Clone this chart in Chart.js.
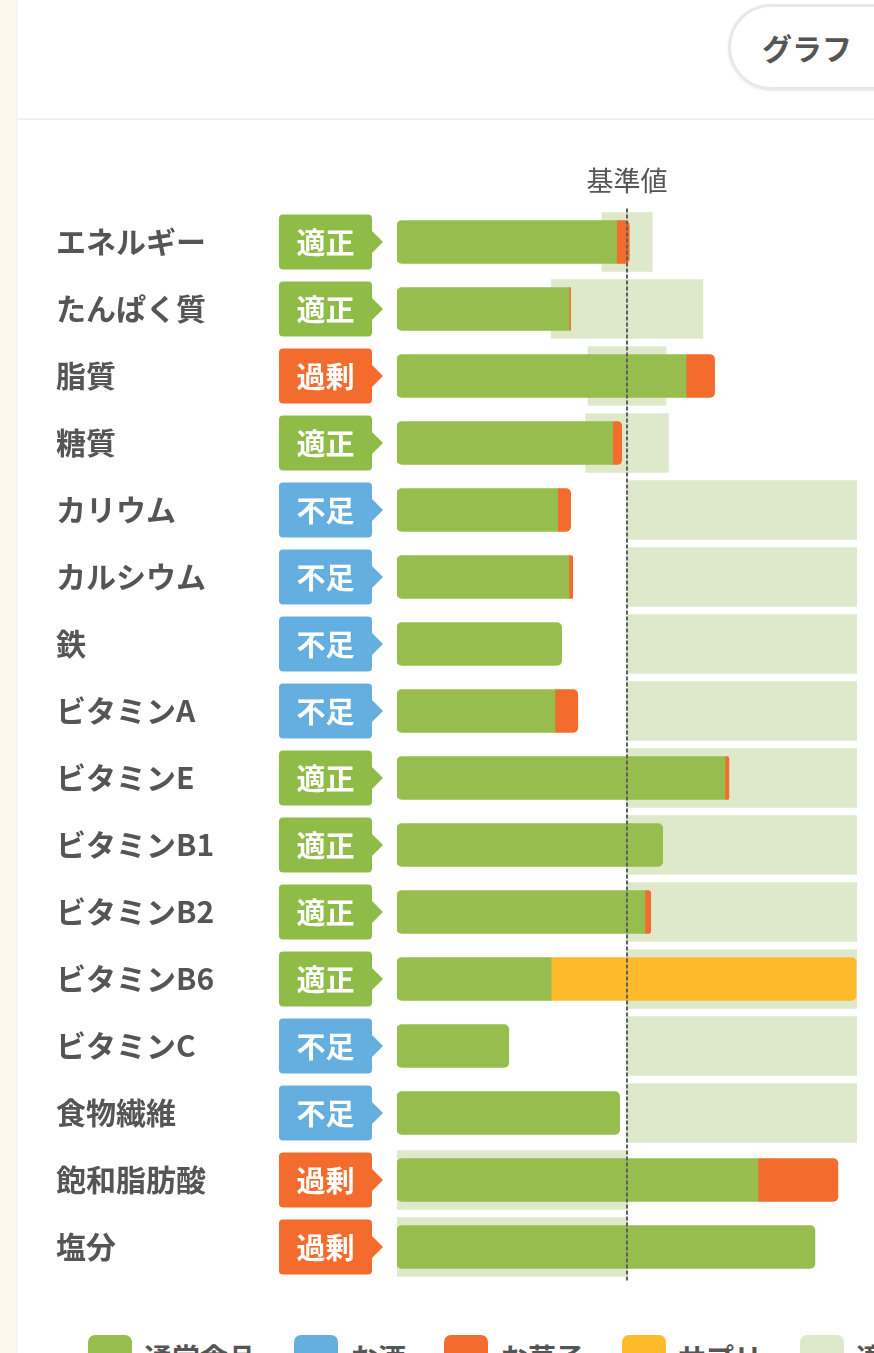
<!DOCTYPE html>
<html lang="ja">
<head>
<meta charset="utf-8">
<title>栄養バランス グラフ</title>
<script src="https://cdn.jsdelivr.net/npm/chart.js@4.4.1/dist/chart.umd.min.js"></script>
<style>
  html, body { margin: 0; padding: 0; background: #fff; }
  body {
    width: 874px; height: 1353px; overflow: hidden; position: relative;
    font-family: 'Noto Sans CJK JP', sans-serif; color: #555;
  }
  .side {
    position: absolute; left: 0; top: 0; width: 16px; height: 100%;
    background: #fcf8ee; box-shadow: 1px 0 2px rgba(0, 0, 0, 0.08);
  }
  .header-line {
    position: absolute; left: 17px; right: 0; top: 118px; height: 2px; background: #efefef;
  }
  .graph-btn {
    position: absolute; left: 728px; top: 4px; width: 200px; height: 86px;
    box-sizing: border-box; border: 3px solid #e8e8e8; border-radius: 43px;
    box-shadow: 0 1px 3px rgba(0, 0, 0, 0.08);
    font-weight: bold; font-size: 30px; line-height: 80px; padding-left: 31px;
  }
  #chart-box { position: absolute; left: 17px; top: 130px; width: 857px; height: 1190px; }
  #legend {
    position: absolute; left: 88px; top: 1335px; display: flex; white-space: nowrap;
    font-weight: bold; font-size: 28px;
  }
  #legend .item { display: flex; align-items: center; margin-right: 38px; }
  #legend .box { width: 44px; height: 44px; border-radius: 7px; margin-right: 12px; flex: none; }
</style>
</head>
<body>
<div class="side"></div>
<div class="graph-btn">グラフ</div>
<div class="header-line"></div>
<div id="chart-box"><canvas id="chart"></canvas></div>
<div id="legend"></div>

<script>
// Nutrients, top to bottom
const nutrients = [
  'エネルギー', 'たんぱく質', '脂質', '糖質', 'カリウム', 'カルシウム', '鉄', 'ビタミンA',
  'ビタミンE', 'ビタミンB1', 'ビタミンB2', 'ビタミンB6', 'ビタミンC', '食物繊維', '飽和脂肪酸', '塩分'
];
const statuses = [
  '適正', '適正', '過剰', '適正', '不足', '不足', '不足', '不足',
  '適正', '適正', '適正', '適正', '不足', '不足', '過剰', '過剰'
];

// Intake as % of the reference value (基準値 = 100)
const regularFood = [95.5, 74.9, 125.7, 93.8, 69.9, 74.8, 71.6, 68.7, 142.6, 115.5, 107.8, 67.0, 48.6, 96.8, 157.0, 181.7];
const alcohol = [0, 0, 0, 0, 0, 0, 0, 0, 0, 0, 0, 0, 0, 0, 0, 0];
const sweets = [5.5, 0.6, 12.4, 3.9, 5.6, 1.6, 0, 9.9, 1.7, 0, 2.5, 0, 0, 0, 34.7, 0];
const supplements = [0, 0, 0, 0, 0, 0, 0, 0, 0, 0, 0, 132.6, 0, 0, 0, 0];

// Appropriate range (適正範囲), same units
const rangeLow = [89, 67, 83, 82, 100, 100, 100, 100, 100, 100, 100, 100, 100, 100, 0, 0];
const rangeHigh = [111, 133, 117, 118, 200, 200, 200, 200, 200, 200, 200, 200, 200, 200, 100, 100];

const referenceValue = 100;
const seriesLabels = ['通常食品', 'お酒', 'お菓子', 'サプリ', '適正範囲'];

const FONT = "'Noto Sans CJK JP', 'Noto Sans', sans-serif";
const COLORS = ['#96bd4d', '#65aee0', '#f36b2d', '#fdbb2b', '#dee8ca'];
const STATUS_COLORS = { '適正': '#8fbb47', '過剰': '#f36b2d', '不足': '#65aee0' };

const intakeSeries = [regularFood, alcohol, sweets, supplements];

// Round only the outer ends of each stacked intake bar
function cornerRadius(seriesIndex) {
  return ctx => {
    const i = ctx.dataIndex;
    const before = intakeSeries.slice(0, seriesIndex).some(s => s[i] > 0);
    const after = intakeSeries.slice(seriesIndex + 1).some(s => s[i] > 0);
    const r = 5;
    return {
      topLeft: before ? 0 : r,
      bottomLeft: before ? 0 : r,
      topRight: after ? 0 : r,
      bottomRight: after ? 0 : r
    };
  };
}

const intakeDatasets = intakeSeries.map((values, k) => ({
  label: seriesLabels[k],
  // empty segments are left out so they leave no hairline
  data: values.map(v => (v > 0 ? v : null)),
  backgroundColor: COLORS[k],
  borderWidth: 0,
  borderSkipped: false,
  borderRadius: cornerRadius(k),
  barThickness: 43,
  grouped: false,
  stack: 'intake',
  order: 1
}));

const rangeDataset = {
  label: seriesLabels[4],
  data: rangeLow.map((lo, i) => [lo, rangeHigh[i]]),
  backgroundColor: COLORS[4],
  borderWidth: 0,
  borderRadius: 0,
  barThickness: 59,
  grouped: false,
  stack: 'range',
  order: 10
};

// Reference line, its caption and the status tags next to the labels
const overlayPlugin = {
  id: 'overlay',
  afterDatasetsDraw(chart) {
    const { ctx, chartArea, scales: { x, y } } = chart;
    const refX = x.getPixelForValue(referenceValue);

    ctx.save();
    ctx.strokeStyle = '#5f5f5f';
    ctx.lineWidth = 2;
    ctx.setLineDash([4, 2]);
    ctx.beginPath();
    ctx.moveTo(refX, chartArea.top);
    ctx.lineTo(refX, chartArea.bottom + 2);
    ctx.stroke();
    ctx.setLineDash([]);

    ctx.fillStyle = '#555';
    ctx.font = `27px ${FONT}`;
    ctx.textAlign = 'center';
    ctx.textBaseline = 'middle';
    ctx.fillText('基準値', refX, chartArea.top - 28);

    statuses.forEach((s, i) => {
      const cy = y.getPixelForValue(i);
      const left = chartArea.left - 118;
      const right = chartArea.left - 25;
      ctx.fillStyle = STATUS_COLORS[s];
      ctx.beginPath();
      ctx.roundRect(left, cy - 27.5, right - left, 55, 4);
      ctx.fill();
      ctx.beginPath();
      ctx.moveTo(right - 1, cy - 12);
      ctx.lineTo(right + 11, cy);
      ctx.lineTo(right - 1, cy + 12);
      ctx.closePath();
      ctx.fill();

      ctx.fillStyle = '#fff';
      ctx.font = `bold 29px ${FONT}`;
      ctx.fillText(s, (left + right) / 2, cy + 1);
    });
    ctx.restore();
  }
};

const chart = new Chart(document.getElementById('chart'), {
  type: 'bar',
  data: {
    labels: nutrients,
    datasets: [...intakeDatasets, rangeDataset]
  },
  options: {
    indexAxis: 'y',
    responsive: true,
    maintainAspectRatio: false,
    animation: false,
    layout: { padding: { left: 39, right: 17, top: 78.5, bottom: 39.5 } },
    plugins: {
      legend: { display: false },
      tooltip: { enabled: false }
    },
    scales: {
      x: { stacked: true, min: 0, max: 200, display: false },
      y: {
        grid: { display: false },
        border: { display: false },
        ticks: {
          crossAlign: 'far',
          autoSkip: false,
          padding: 0,
          color: '#555',
          font: { family: FONT, size: 30, weight: 'bold' }
        },
        afterFit(scale) {
          scale.width = 341;
        }
      }
    }
  },
  plugins: [overlayPlugin]
});

// HTML legend built from the chart's datasets
const legend = document.getElementById('legend');
chart.data.datasets.forEach(ds => {
  const item = document.createElement('div');
  item.className = 'item';
  const box = document.createElement('span');
  box.className = 'box';
  box.style.background = ds.backgroundColor;
  const text = document.createElement('span');
  text.textContent = ds.label;
  item.appendChild(box);
  item.appendChild(text);
  legend.appendChild(item);
});
</script>
</body>
</html>
